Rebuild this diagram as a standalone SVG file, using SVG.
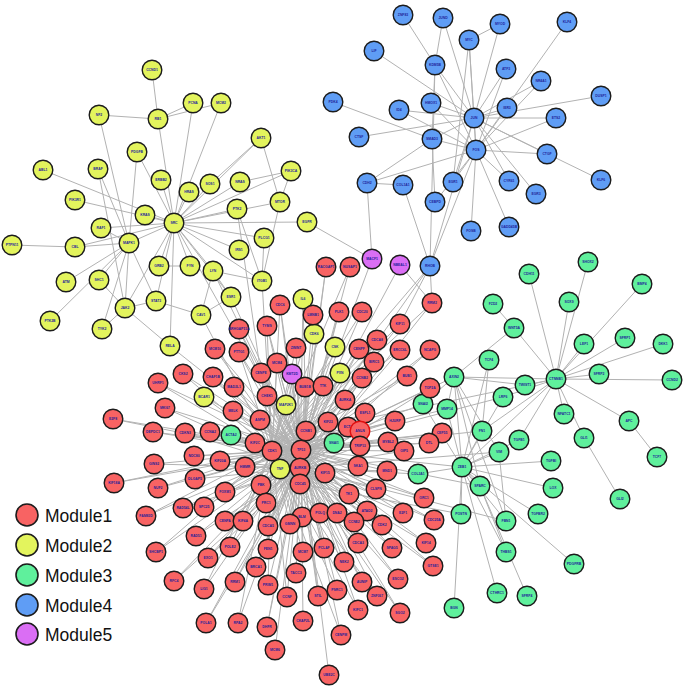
<svg xmlns="http://www.w3.org/2000/svg" width="685" height="686" viewBox="0 0 685 686">
<style>
.e{fill:none;stroke:#b2b2b2;stroke-width:1}
circle{stroke:#1c1c1c;stroke-width:1.4}
.m1 circle{fill:#f86363}
.m2 circle{fill:#e3f45d}
.m3 circle{fill:#5ff09c}
.m4 circle{fill:#5f9df5}
.m5 circle{fill:#da6ef4}
text{font-family:"Liberation Sans",Arial,sans-serif;font-size:3.4px;font-weight:bold;fill:#1f1f9a;text-anchor:middle}
.lg text{font-size:17.5px;font-weight:normal;fill:#111;text-anchor:start}
.lg circle{stroke-width:1.6}
</style>
<rect width="685" height="686" fill="#fff"/>
<g id="connectors">
<path class="e" d="M474 118L476 150M403 15L435 65M443 18L435 65M443 18L474 118M469 40L474 118M469 40L476 150M469 40L500 24M469 40L453 182M374 51L474 118M435 65L474 118M435 65L476 150M435 65L432 139M333 102L432 139M399 110L474 118M399 110L476 150M431 103L474 118M431 103L476 150M359 137L474 118M432 139L474 118M432 139L476 150M432 139L367 183M432 139L435 202M367 183L476 150M367 183L403 185M367 183L372 259M403 185L430 266M453 182L474 118M453 182L476 150M435 202L476 150M471 231L476 150M500 24L474 118M567 22L476 150M506 69L474 118M506 69L476 150M541 81L474 118M541 81L476 150M507 108L474 118M507 108L476 150M601 96L474 118M556 118L474 118M556 118L476 150M547 154L474 118M547 154L476 150M601 180L474 118M509 181L474 118M509 181L476 150M536 194L474 118M509 227L476 150M430 266L474 118M430 266L476 150M435 65L430 266"/>
<path class="e" d="M152 70L158 119M99 115L158 119M99 115L129 243M158 119L174 223M158 119L193 103M158 119L221 103M193 103L174 223M221 103L174 223M261 138L210 184M261 138L280 202M261 138L174 223M291 171L240 182M291 171L280 202M291 171L174 223M137 152L174 223M137 152L129 243M43 170L174 223M98 169L129 243M98 169L125 308M161 180L174 223M75 200L174 223M145 215L174 223M101 228L174 223M101 228L129 243M129 243L174 223M75 247L129 243M75 247L174 223M75 247L12 245M159 266L174 223M159 266L190 266M66 282L129 243M99 280L129 243M99 280L125 308M125 308L174 223M125 308L156 301M125 308L102 329M50 321L129 243M102 329L129 243M156 301L174 223M189 192L174 223M210 184L174 223M240 182L174 223M237 209L174 223M237 209L262 281M280 202L174 223M280 202L262 281M307 222L174 223M307 222L372 259M264 238L174 223M264 238L262 281M239 250L174 223M190 266L174 223M213 271L174 223M213 271L262 281M213 271L231 297M262 281L174 223M231 297L174 223M231 297L201 315M201 315L213 271M201 315L156 301M170 346L125 308M170 346L174 223M129 243L125 308M129 243L156 301"/>
<path class="e" d="M588 262L556 379M529 274L556 379M642 284L556 379M493 304L514 328M569 302L556 379M514 328L556 379M514 328L454 377M584 344L556 379M625 338L556 379M663 344L556 379M489 360L482 431M489 360L462 467M454 377L556 379M454 377L462 467M599 374L556 379M525 385L556 379M525 385L454 377M672 380L556 379M503 397L556 379M503 397L462 467M423 404L454 377M423 404L462 467M447 409L454 377M447 409L462 467M564 414L556 379M629 421L556 379M482 431L462 467M482 431L556 379M584 438L556 379M584 438L620 499M519 440L556 379M519 440L462 467M499 452L462 467M499 452L454 377M551 461L462 467M418 474L462 467M480 486L462 467M480 486L454 377M553 488L462 467M657 457L629 421M461 514L462 467M538 514L462 467M506 521L462 467M506 521L499 452M506 552L462 467M506 552L480 486M574 564L462 467M497 593L462 467M527 596L480 486M454 608L462 467M556 379L462 467M454 377L506 521"/>
<path class="e" d="M301 450L300 468M301 450L272 451M301 450L306 431M300 468L272 451M300 468L300 484M272 451L306 431M300 484L301 450M280 469L301 450M280 469L272 451M301 450L462 467M301 450L454 377M300 468L418 474M301 450L423 404M272 451L447 409M301 450L480 486M300 468L499 452M301 450L503 397M306 431L556 379M301 450L482 431M300 468L506 521M300 484L461 514M301 450L174 223M272 451L262 281M301 450L213 271M301 450L231 297M300 468L303 299M301 450L314 334M272 451L201 315M301 450L170 346M301 450L204 397M300 468L204 397M301 450L286 405M272 451L286 405M301 450L335 347M272 451L335 347M301 450L340 373M300 468L340 373M306 431L303 299M272 451L237 209M301 450L430 266M272 451L430 266M432 303L430 266M400 324L430 266M372 259L301 450M400 265L301 450M400 265L432 303M292 374L301 450M292 374L300 468M292 374L272 451M231 435L301 450M231 435L272 451M334 443L301 450M334 443L300 468M303 299L314 334"/>
<path class="e" d="M326 267L301 450M326 267L300 468M350 267L301 450M350 267L272 451M280 305L301 450M280 305L300 468M280 305L272 451M339 312L301 450M339 312L300 468M362 312L301 450M362 312L272 451M313 315L301 450M313 315L272 451M432 303L300 468M432 303L272 451M267 326L301 450M267 326L300 468M267 326L272 451M239 329L301 450M239 329L300 468M400 324L301 450M400 324L272 451M296 348L301 450M296 348L300 468M296 348L272 451M359 349L301 450M359 349L300 468M377 340L301 450M377 340L272 451M400 350L300 468M400 350L272 451M430 350L301 450M430 350L300 468M277 363L301 450M277 363L272 451M374 362L301 450M374 362L300 468M407 376L301 450M407 376L272 451M362 378L301 450M362 378L300 468M305 387L300 468M305 387L272 451M323 386L301 450M323 386L272 451M430 388L301 450M430 388L300 468M261 373L301 450M261 373L300 468M261 373L272 451M267 396L301 450M267 396L300 468M345 400L301 450M345 400L272 451M215 349L301 450M215 349L300 468M239 352L301 450M239 352L300 468M239 352L272 451M183 374L301 450M183 374L272 451M213 377L301 450M213 377L300 468M158 383L301 450M158 383L272 451M234 387L301 450M234 387L300 468M165 408L301 450M165 408L300 468M113 419L301 450M113 419L272 451M233 411L301 450M233 411L300 468M260 420L301 450M260 420L300 468M153 432L301 450M153 432L272 451M185 433L301 450M185 433L300 468M210 432L301 450M210 432L272 451M255 443L301 450M255 443L300 468M194 456L301 450M194 456L272 451M220 461L301 450M220 461L300 468M245 467L301 450M245 467L300 468M154 464L301 450M154 464L300 468M114 483L301 450M114 483L272 451M195 479L301 450M195 479L300 468M158 488L301 450M158 488L272 451M225 492L301 450M225 492L300 468M261 485L301 450M261 485L300 468M146 516L301 450M146 516L272 451M183 508L301 450M183 508L300 468M204 507L301 450M204 507L272 451M225 521L301 450M225 521L300 468M243 521L301 450M243 521L272 451M266 503L301 450M266 503L300 468M268 526L301 450M268 526L300 468"/>
<path class="e" d="M365 413L272 451M365 413L300 468M395 421L301 450M395 421L272 451M442 433L301 450M442 433L272 451M328 422L300 468M328 422L272 451M348 427L301 450M348 427L272 451M360 431L301 450M360 431L300 468M360 431L272 451M360 446L300 468M360 446L272 451M388 442L301 450M388 442L272 451M404 451L301 450M404 451L300 468M429 443L301 450M429 443L272 451M325 473L301 450M325 473L272 451M358 466L301 450M358 466L272 451M387 471L301 450M387 471L300 468M349 494L301 450M349 494L272 451M376 489L301 450M376 489L300 468M424 498L301 450M424 498L272 451M302 517L301 450M302 517L272 451M320 513L301 450M320 513L272 451M337 513L301 450M337 513L300 468M367 511L301 450M367 511L272 451M403 513L301 450M403 513L300 468M434 520L301 450M434 520L272 451M354 522L301 450M354 522L300 468M382 525L301 450M382 525L272 451M290 524L301 450M290 524L272 451M196 536L301 450M196 536L300 468M156 552L301 450M156 552L272 451M208 558L301 450M208 558L300 468M230 547L301 450M230 547L272 451M256 567L301 450M256 567L300 468M268 549L301 450M268 549L272 451M174 581L301 450M174 581L300 468M204 589L301 450M204 589L272 451M235 582L301 450M235 582L300 468M268 585L301 450M268 585L272 451M206 623L301 450M206 623L300 468M238 623L301 450M238 623L272 451M267 627L301 450M267 627L300 468M275 650L301 450M303 552L301 450M303 552L272 451M324 548L301 450M324 548L300 468M358 543L301 450M358 543L272 451M392 548L301 450M392 548L300 468M426 543L301 450M426 543L272 451M433 566L301 450M433 566L300 468M344 562L301 450M344 562L272 451M296 573L301 450M296 573L300 468M287 597L301 450M287 597L272 451M318 596L301 450M318 596L300 468M337 590L301 450M337 590L272 451M362 582L301 450M362 582L300 468M377 596L301 450M377 596L272 451M398 579L301 450M398 579L300 468M358 610L301 450M358 610L272 451M400 613L301 450M400 613L300 468M303 621L301 450M341 635L301 450M341 635L272 451M329 675L301 450"/>
</g>
<g id="module4-nodes" class="m4">
<g id="n-ZNF83"><circle cx="403" cy="15" r="9.8"/><text x="403" y="16.2">ZNF83</text></g>
<g id="n-JUND"><circle cx="443" cy="18" r="9.8"/><text x="443" y="19.2">JUND</text></g>
<g id="n-MYC"><circle cx="469" cy="40" r="9.8"/><text x="469" y="41.2">MYC</text></g>
<g id="n-LIF"><circle cx="374" cy="51" r="9.8"/><text x="374" y="52.2">LIF</text></g>
<g id="n-KDM5B"><circle cx="435" cy="65" r="9.8"/><text x="435" y="66.2">KDM5B</text></g>
<g id="n-PDK4"><circle cx="333" cy="102" r="9.8"/><text x="333" y="103.2">PDK4</text></g>
<g id="n-ID4"><circle cx="399" cy="110" r="9.8"/><text x="399" y="111.2">ID4</text></g>
<g id="n-HMOX1"><circle cx="431" cy="103" r="9.8"/><text x="431" y="104.2">HMOX1</text></g>
<g id="n-CTSF"><circle cx="359" cy="137" r="9.8"/><text x="359" y="138.2">CTSF</text></g>
<g id="n-SMAD3"><circle cx="432" cy="139" r="9.8"/><text x="432" y="140.2">SMAD3</text></g>
<g id="n-CDH2"><circle cx="367" cy="183" r="9.8"/><text x="367" y="184.2">CDH2</text></g>
<g id="n-COL1A1"><circle cx="403" cy="185" r="9.8"/><text x="403" y="186.2">COL1A1</text></g>
<g id="n-EGR1"><circle cx="453" cy="182" r="9.8"/><text x="453" y="183.2">EGR1</text></g>
<g id="n-CEBPD"><circle cx="435" cy="202" r="9.8"/><text x="435" y="203.2">CEBPD</text></g>
<g id="n-FOSB"><circle cx="471" cy="231" r="9.8"/><text x="471" y="232.2">FOSB</text></g>
<g id="n-MYOD"><circle cx="500" cy="24" r="9.8"/><text x="500" y="25.2">MYOD</text></g>
<g id="n-KLF4"><circle cx="567" cy="22" r="9.8"/><text x="567" y="23.2">KLF4</text></g>
<g id="n-ATF3"><circle cx="506" cy="69" r="9.8"/><text x="506" y="70.2">ATF3</text></g>
<g id="n-NR4A1"><circle cx="541" cy="81" r="9.8"/><text x="541" y="82.2">NR4A1</text></g>
<g id="n-IER3"><circle cx="507" cy="108" r="9.8"/><text x="507" y="109.2">IER3</text></g>
<g id="n-DUSP1"><circle cx="601" cy="96" r="9.8"/><text x="601" y="97.2">DUSP1</text></g>
<g id="n-ETS2"><circle cx="556" cy="118" r="9.8"/><text x="556" y="119.2">ETS2</text></g>
<g id="n-CTGF"><circle cx="547" cy="154" r="9.8"/><text x="547" y="155.2">CTGF</text></g>
<g id="n-KLF6"><circle cx="601" cy="180" r="9.8"/><text x="601" y="181.2">KLF6</text></g>
<g id="n-CYR61"><circle cx="509" cy="181" r="9.8"/><text x="509" y="182.2">CYR61</text></g>
<g id="n-EGR3"><circle cx="536" cy="194" r="9.8"/><text x="536" y="195.2">EGR3</text></g>
<g id="n-GADD45B"><circle cx="509" cy="227" r="9.8"/><text x="509" y="228.2">GADD45B</text></g>
<g id="n-RHOB"><circle cx="430" cy="266" r="9.8"/><text x="430" y="267.2">RHOB</text></g>
<g id="n-JUN"><circle cx="474" cy="118" r="9.8"/><text x="474" y="119.2">JUN</text></g>
<g id="n-FOS"><circle cx="476" cy="150" r="9.8"/><text x="476" y="151.2">FOS</text></g>
</g>
<g id="module2-nodes" class="m2">
<g id="n-CCND1"><circle cx="152" cy="70" r="9.8"/><text x="152" y="71.2">CCND1</text></g>
<g id="n-NF2"><circle cx="99" cy="115" r="9.8"/><text x="99" y="116.2">NF2</text></g>
<g id="n-RB1"><circle cx="158" cy="119" r="9.8"/><text x="158" y="120.2">RB1</text></g>
<g id="n-PCNA"><circle cx="193" cy="103" r="9.8"/><text x="193" y="104.2">PCNA</text></g>
<g id="n-MCM2"><circle cx="221" cy="103" r="9.8"/><text x="221" y="104.2">MCM2</text></g>
<g id="n-AKT1"><circle cx="261" cy="138" r="9.8"/><text x="261" y="139.2">AKT1</text></g>
<g id="n-PIK3CA"><circle cx="291" cy="171" r="9.8"/><text x="291" y="172.2">PIK3CA</text></g>
<g id="n-PDGFB"><circle cx="137" cy="152" r="9.8"/><text x="137" y="153.2">PDGFB</text></g>
<g id="n-ABL1"><circle cx="43" cy="170" r="9.8"/><text x="43" y="171.2">ABL1</text></g>
<g id="n-BRAF"><circle cx="98" cy="169" r="9.8"/><text x="98" y="170.2">BRAF</text></g>
<g id="n-ERBB2"><circle cx="161" cy="180" r="9.8"/><text x="161" y="181.2">ERBB2</text></g>
<g id="n-PIK3R1"><circle cx="75" cy="200" r="9.8"/><text x="75" y="201.2">PIK3R1</text></g>
<g id="n-KRAS"><circle cx="145" cy="215" r="9.8"/><text x="145" y="216.2">KRAS</text></g>
<g id="n-SRC"><circle cx="174" cy="223" r="9.8"/><text x="174" y="224.2">SRC</text></g>
<g id="n-RAF1"><circle cx="101" cy="228" r="9.8"/><text x="101" y="229.2">RAF1</text></g>
<g id="n-MAPK1"><circle cx="129" cy="243" r="9.8"/><text x="129" y="244.2">MAPK1</text></g>
<g id="n-CBL"><circle cx="75" cy="247" r="9.8"/><text x="75" y="248.2">CBL</text></g>
<g id="n-PTPN11"><circle cx="12" cy="245" r="9.8"/><text x="12" y="246.2">PTPN11</text></g>
<g id="n-GRB2"><circle cx="159" cy="266" r="9.8"/><text x="159" y="267.2">GRB2</text></g>
<g id="n-ATM"><circle cx="66" cy="282" r="9.8"/><text x="66" y="283.2">ATM</text></g>
<g id="n-SHC1"><circle cx="99" cy="280" r="9.8"/><text x="99" y="281.2">SHC1</text></g>
<g id="n-JAK2"><circle cx="125" cy="308" r="9.8"/><text x="125" y="309.2">JAK2</text></g>
<g id="n-STAT3"><circle cx="156" cy="301" r="9.8"/><text x="156" y="302.2">STAT3</text></g>
<g id="n-PTK2B"><circle cx="50" cy="321" r="9.8"/><text x="50" y="322.2">PTK2B</text></g>
<g id="n-TYK2"><circle cx="102" cy="329" r="9.8"/><text x="102" y="330.2">TYK2</text></g>
<g id="n-HRAS"><circle cx="189" cy="192" r="9.8"/><text x="189" y="193.2">HRAS</text></g>
<g id="n-SOS1"><circle cx="210" cy="184" r="9.8"/><text x="210" y="185.2">SOS1</text></g>
<g id="n-NRAS"><circle cx="240" cy="182" r="9.8"/><text x="240" y="183.2">NRAS</text></g>
<g id="n-PTK2"><circle cx="237" cy="209" r="9.8"/><text x="237" y="210.2">PTK2</text></g>
<g id="n-MTOR"><circle cx="280" cy="202" r="9.8"/><text x="280" y="203.2">MTOR</text></g>
<g id="n-EGFR"><circle cx="307" cy="222" r="9.8"/><text x="307" y="223.2">EGFR</text></g>
<g id="n-PLCG1"><circle cx="264" cy="238" r="9.8"/><text x="264" y="239.2">PLCG1</text></g>
<g id="n-IRS1"><circle cx="239" cy="250" r="9.8"/><text x="239" y="251.2">IRS1</text></g>
<g id="n-FYN"><circle cx="190" cy="266" r="9.8"/><text x="190" y="267.2">FYN</text></g>
<g id="n-LYN"><circle cx="213" cy="271" r="9.8"/><text x="213" y="272.2">LYN</text></g>
<g id="n-ITGB1"><circle cx="262" cy="281" r="9.8"/><text x="262" y="282.2">ITGB1</text></g>
<g id="n-ESR1"><circle cx="231" cy="297" r="9.8"/><text x="231" y="298.2">ESR1</text></g>
<g id="n-CAV1"><circle cx="201" cy="315" r="9.8"/><text x="201" y="316.2">CAV1</text></g>
<g id="n-IL6"><circle cx="303" cy="299" r="9.8"/><text x="303" y="300.2">IL6</text></g>
<g id="n-CDK6"><circle cx="314" cy="334" r="9.8"/><text x="314" y="335.2">CDK6</text></g>
<g id="n-RELA"><circle cx="170" cy="346" r="9.8"/><text x="170" y="347.2">RELA</text></g>
<g id="n-CSK"><circle cx="335" cy="347" r="9.8"/><text x="335" y="348.2">CSK</text></g>
<g id="n-PXN"><circle cx="340" cy="373" r="9.8"/><text x="340" y="374.2">PXN</text></g>
<g id="n-BCAR1"><circle cx="204" cy="397" r="9.8"/><text x="204" y="398.2">BCAR1</text></g>
<g id="n-MAP2K1"><circle cx="286" cy="405" r="9.8"/><text x="286" y="406.2">MAP2K1</text></g>
<g id="n-TNF"><circle cx="280" cy="469" r="9.8"/><text x="280" y="470.2">TNF</text></g>
</g>
<g id="module3-nodes" class="m3">
<g id="n-SHOX2"><circle cx="588" cy="262" r="9.8"/><text x="588" y="263.2">SHOX2</text></g>
<g id="n-CDH11"><circle cx="529" cy="274" r="9.8"/><text x="529" y="275.2">CDH11</text></g>
<g id="n-BMP4"><circle cx="642" cy="284" r="9.8"/><text x="642" y="285.2">BMP4</text></g>
<g id="n-FZD2"><circle cx="493" cy="304" r="9.8"/><text x="493" y="305.2">FZD2</text></g>
<g id="n-SOX9"><circle cx="569" cy="302" r="9.8"/><text x="569" y="303.2">SOX9</text></g>
<g id="n-WNT5A"><circle cx="514" cy="328" r="9.8"/><text x="514" y="329.2">WNT5A</text></g>
<g id="n-LEF1"><circle cx="584" cy="344" r="9.8"/><text x="584" y="345.2">LEF1</text></g>
<g id="n-SFRP1"><circle cx="625" cy="338" r="9.8"/><text x="625" y="339.2">SFRP1</text></g>
<g id="n-DKK1"><circle cx="663" cy="344" r="9.8"/><text x="663" y="345.2">DKK1</text></g>
<g id="n-TCF4"><circle cx="489" cy="360" r="9.8"/><text x="489" y="361.2">TCF4</text></g>
<g id="n-AXIN2"><circle cx="454" cy="377" r="9.8"/><text x="454" y="378.2">AXIN2</text></g>
<g id="n-CTNNB1"><circle cx="556" cy="379" r="9.8"/><text x="556" y="380.2">CTNNB1</text></g>
<g id="n-SFRP2"><circle cx="599" cy="374" r="9.8"/><text x="599" y="375.2">SFRP2</text></g>
<g id="n-TWIST1"><circle cx="525" cy="385" r="9.8"/><text x="525" y="386.2">TWIST1</text></g>
<g id="n-CCND2"><circle cx="672" cy="380" r="9.8"/><text x="672" y="381.2">CCND2</text></g>
<g id="n-LRP6"><circle cx="503" cy="397" r="9.8"/><text x="503" y="398.2">LRP6</text></g>
<g id="n-SNAI2"><circle cx="423" cy="404" r="9.8"/><text x="423" y="405.2">SNAI2</text></g>
<g id="n-MMP14"><circle cx="447" cy="409" r="9.8"/><text x="447" y="410.2">MMP14</text></g>
<g id="n-NFATC1"><circle cx="564" cy="414" r="9.8"/><text x="564" y="415.2">NFATC1</text></g>
<g id="n-APC"><circle cx="629" cy="421" r="9.8"/><text x="629" y="422.2">APC</text></g>
<g id="n-FN1"><circle cx="482" cy="431" r="9.8"/><text x="482" y="432.2">FN1</text></g>
<g id="n-TGFB1"><circle cx="519" cy="440" r="9.8"/><text x="519" y="441.2">TGFB1</text></g>
<g id="n-GLI1"><circle cx="584" cy="438" r="9.8"/><text x="584" y="439.2">GLI1</text></g>
<g id="n-VIM"><circle cx="499" cy="452" r="9.8"/><text x="499" y="453.2">VIM</text></g>
<g id="n-TGFBI"><circle cx="551" cy="461" r="9.8"/><text x="551" y="462.2">TGFBI</text></g>
<g id="n-ZEB1"><circle cx="462" cy="467" r="9.8"/><text x="462" y="468.2">ZEB1</text></g>
<g id="n-COL3A1"><circle cx="418" cy="474" r="9.8"/><text x="418" y="475.2">COL3A1</text></g>
<g id="n-SPARC"><circle cx="480" cy="486" r="9.8"/><text x="480" y="487.2">SPARC</text></g>
<g id="n-LOX"><circle cx="553" cy="488" r="9.8"/><text x="553" y="489.2">LOX</text></g>
<g id="n-TCF7"><circle cx="657" cy="457" r="9.8"/><text x="657" y="458.2">TCF7</text></g>
<g id="n-GLI2"><circle cx="620" cy="499" r="9.8"/><text x="620" y="500.2">GLI2</text></g>
<g id="n-POSTN"><circle cx="461" cy="514" r="9.8"/><text x="461" y="515.2">POSTN</text></g>
<g id="n-TGFBR2"><circle cx="538" cy="514" r="9.8"/><text x="538" y="515.2">TGFBR2</text></g>
<g id="n-FBN1"><circle cx="506" cy="521" r="9.8"/><text x="506" y="522.2">FBN1</text></g>
<g id="n-THBS1"><circle cx="506" cy="552" r="9.8"/><text x="506" y="553.2">THBS1</text></g>
<g id="n-PDGFRB"><circle cx="574" cy="564" r="9.8"/><text x="574" y="565.2">PDGFRB</text></g>
<g id="n-CTHRC1"><circle cx="497" cy="593" r="9.8"/><text x="497" y="594.2">CTHRC1</text></g>
<g id="n-SFRP4"><circle cx="527" cy="596" r="9.8"/><text x="527" y="597.2">SFRP4</text></g>
<g id="n-BGN"><circle cx="454" cy="608" r="9.8"/><text x="454" y="609.2">BGN</text></g>
<g id="n-ACTA2"><circle cx="231" cy="435" r="9.8"/><text x="231" y="436.2">ACTA2</text></g>
<g id="n-SNAI1"><circle cx="334" cy="443" r="9.8"/><text x="334" y="444.2">SNAI1</text></g>
</g>
<g id="module5-nodes" class="m5">
<g id="n-MACF1"><circle cx="372" cy="259" r="9.8"/><text x="372" y="260.2">MACF1</text></g>
<g id="n-NBEAL1"><circle cx="400" cy="265" r="9.8"/><text x="400" y="266.2">NBEAL1</text></g>
<g id="n-KMT2D"><circle cx="292" cy="374" r="9.8"/><text x="292" y="375.2">KMT2D</text></g>
</g>
<g id="module1-nodes" class="m1">
<g id="n-RACGAP1"><circle cx="326" cy="267" r="9.8"/><text x="326" y="268.2">RACGAP1</text></g>
<g id="n-NUSAP1"><circle cx="350" cy="267" r="9.8"/><text x="350" y="268.2">NUSAP1</text></g>
<g id="n-CDC6"><circle cx="280" cy="305" r="9.8"/><text x="280" y="306.2">CDC6</text></g>
<g id="n-PLK1"><circle cx="339" cy="312" r="9.8"/><text x="339" y="313.2">PLK1</text></g>
<g id="n-CDC20"><circle cx="362" cy="312" r="9.8"/><text x="362" y="313.2">CDC20</text></g>
<g id="n-LMNB1"><circle cx="313" cy="315" r="9.8"/><text x="313" y="316.2">LMNB1</text></g>
<g id="n-RRM2"><circle cx="432" cy="303" r="9.8"/><text x="432" y="304.2">RRM2</text></g>
<g id="n-TYMS"><circle cx="267" cy="326" r="9.8"/><text x="267" y="327.2">TYMS</text></g>
<g id="n-ARHGAP11A"><circle cx="239" cy="329" r="9.8"/><text x="239" y="330.2">ARHGAP11A</text></g>
<g id="n-KIF11"><circle cx="400" cy="324" r="9.8"/><text x="400" y="325.2">KIF11</text></g>
<g id="n-ZWINT"><circle cx="296" cy="348" r="9.8"/><text x="296" y="349.2">ZWINT</text></g>
<g id="n-CENPF"><circle cx="359" cy="349" r="9.8"/><text x="359" y="350.2">CENPF</text></g>
<g id="n-CDCA8"><circle cx="377" cy="340" r="9.8"/><text x="377" y="341.2">CDCA8</text></g>
<g id="n-ERCC6L"><circle cx="400" cy="350" r="9.8"/><text x="400" y="351.2">ERCC6L</text></g>
<g id="n-NCAPG"><circle cx="430" cy="350" r="9.8"/><text x="430" y="351.2">NCAPG</text></g>
<g id="n-MCM4"><circle cx="277" cy="363" r="9.8"/><text x="277" y="364.2">MCM4</text></g>
<g id="n-BIRC5"><circle cx="374" cy="362" r="9.8"/><text x="374" y="363.2">BIRC5</text></g>
<g id="n-BUB1"><circle cx="407" cy="376" r="9.8"/><text x="407" y="377.2">BUB1</text></g>
<g id="n-CCNB2"><circle cx="362" cy="378" r="9.8"/><text x="362" y="379.2">CCNB2</text></g>
<g id="n-BUB1B"><circle cx="305" cy="387" r="9.8"/><text x="305" y="388.2">BUB1B</text></g>
<g id="n-TTK"><circle cx="323" cy="386" r="9.8"/><text x="323" y="387.2">TTK</text></g>
<g id="n-TOP2A"><circle cx="430" cy="388" r="9.8"/><text x="430" y="389.2">TOP2A</text></g>
<g id="n-CENPE"><circle cx="261" cy="373" r="9.8"/><text x="261" y="374.2">CENPE</text></g>
<g id="n-CHEK1"><circle cx="267" cy="396" r="9.8"/><text x="267" y="397.2">CHEK1</text></g>
<g id="n-AURKA"><circle cx="345" cy="400" r="9.8"/><text x="345" y="401.2">AURKA</text></g>
<g id="n-MCM10"><circle cx="215" cy="349" r="9.8"/><text x="215" y="350.2">MCM10</text></g>
<g id="n-PTTG1"><circle cx="239" cy="352" r="9.8"/><text x="239" y="353.2">PTTG1</text></g>
<g id="n-CKS2"><circle cx="183" cy="374" r="9.8"/><text x="183" y="375.2">CKS2</text></g>
<g id="n-CHAF1B"><circle cx="213" cy="377" r="9.8"/><text x="213" y="378.2">CHAF1B</text></g>
<g id="n-UHRF1"><circle cx="158" cy="383" r="9.8"/><text x="158" y="384.2">UHRF1</text></g>
<g id="n-MAD2L1"><circle cx="234" cy="387" r="9.8"/><text x="234" y="388.2">MAD2L1</text></g>
<g id="n-MKI67"><circle cx="165" cy="408" r="9.8"/><text x="165" y="409.2">MKI67</text></g>
<g id="n-E2F8"><circle cx="113" cy="419" r="9.8"/><text x="113" y="420.2">E2F8</text></g>
<g id="n-MELK"><circle cx="233" cy="411" r="9.8"/><text x="233" y="412.2">MELK</text></g>
<g id="n-ASPM"><circle cx="260" cy="420" r="9.8"/><text x="260" y="421.2">ASPM</text></g>
<g id="n-DEPDC1"><circle cx="153" cy="432" r="9.8"/><text x="153" y="433.2">DEPDC1</text></g>
<g id="n-CDKN3"><circle cx="185" cy="433" r="9.8"/><text x="185" y="434.2">CDKN3</text></g>
<g id="n-CCNA2"><circle cx="210" cy="432" r="9.8"/><text x="210" y="433.2">CCNA2</text></g>
<g id="n-KIF2C"><circle cx="255" cy="443" r="9.8"/><text x="255" y="444.2">KIF2C</text></g>
<g id="n-NDC80"><circle cx="194" cy="456" r="9.8"/><text x="194" y="457.2">NDC80</text></g>
<g id="n-KIF20A"><circle cx="220" cy="461" r="9.8"/><text x="220" y="462.2">KIF20A</text></g>
<g id="n-HMMR"><circle cx="245" cy="467" r="9.8"/><text x="245" y="468.2">HMMR</text></g>
<g id="n-GINS2"><circle cx="154" cy="464" r="9.8"/><text x="154" y="465.2">GINS2</text></g>
<g id="n-KIF18A"><circle cx="114" cy="483" r="9.8"/><text x="114" y="484.2">KIF18A</text></g>
<g id="n-DLGAP5"><circle cx="195" cy="479" r="9.8"/><text x="195" y="480.2">DLGAP5</text></g>
<g id="n-NUF2"><circle cx="158" cy="488" r="9.8"/><text x="158" y="489.2">NUF2</text></g>
<g id="n-FOXM1"><circle cx="225" cy="492" r="9.8"/><text x="225" y="493.2">FOXM1</text></g>
<g id="n-PBK"><circle cx="261" cy="485" r="9.8"/><text x="261" y="486.2">PBK</text></g>
<g id="n-FAM83D"><circle cx="146" cy="516" r="9.8"/><text x="146" y="517.2">FAM83D</text></g>
<g id="n-RAD54L"><circle cx="183" cy="508" r="9.8"/><text x="183" y="509.2">RAD54L</text></g>
<g id="n-SPC25"><circle cx="204" cy="507" r="9.8"/><text x="204" y="508.2">SPC25</text></g>
<g id="n-CENPA"><circle cx="225" cy="521" r="9.8"/><text x="225" y="522.2">CENPA</text></g>
<g id="n-KIF4A"><circle cx="243" cy="521" r="9.8"/><text x="243" y="522.2">KIF4A</text></g>
<g id="n-PRC1"><circle cx="266" cy="503" r="9.8"/><text x="266" y="504.2">PRC1</text></g>
<g id="n-CDCA5"><circle cx="268" cy="526" r="9.8"/><text x="268" y="527.2">CDCA5</text></g>
<g id="n-ESPL1"><circle cx="365" cy="413" r="9.8"/><text x="365" y="414.2">ESPL1</text></g>
<g id="n-HJURP"><circle cx="395" cy="421" r="9.8"/><text x="395" y="422.2">HJURP</text></g>
<g id="n-CEP55"><circle cx="442" cy="433" r="9.8"/><text x="442" y="434.2">CEP55</text></g>
<g id="n-KIF23"><circle cx="328" cy="422" r="9.8"/><text x="328" y="423.2">KIF23</text></g>
<g id="n-ECT2"><circle cx="348" cy="427" r="9.8"/><text x="348" y="428.2">ECT2</text></g>
<g id="n-ANLN"><circle cx="360" cy="431" r="9.8" style="stroke:#e01010"/><text x="360" y="432.2">ANLN</text></g>
<g id="n-TRIP13"><circle cx="360" cy="446" r="9.8"/><text x="360" y="447.2">TRIP13</text></g>
<g id="n-MYBL2"><circle cx="388" cy="442" r="9.8"/><text x="388" y="443.2">MYBL2</text></g>
<g id="n-OIP5"><circle cx="404" cy="451" r="9.8"/><text x="404" y="452.2">OIP5</text></g>
<g id="n-DTL"><circle cx="429" cy="443" r="9.8"/><text x="429" y="444.2">DTL</text></g>
<g id="n-CCNB1"><circle cx="306" cy="431" r="9.8"/><text x="306" y="432.2">CCNB1</text></g>
<g id="n-CDK1"><circle cx="272" cy="451" r="9.8"/><text x="272" y="452.2">CDK1</text></g>
<g id="n-TP53"><circle cx="301" cy="450" r="9.8"/><text x="301" y="451.2">TP53</text></g>
<g id="n-AURKB"><circle cx="300" cy="468" r="9.8"/><text x="300" y="469.2">AURKB</text></g>
<g id="n-CDC45"><circle cx="300" cy="484" r="9.8"/><text x="300" y="485.2">CDC45</text></g>
<g id="n-KIF15"><circle cx="325" cy="473" r="9.8"/><text x="325" y="474.2">KIF15</text></g>
<g id="n-SKA1"><circle cx="358" cy="466" r="9.8"/><text x="358" y="467.2">SKA1</text></g>
<g id="n-MND1"><circle cx="387" cy="471" r="9.8"/><text x="387" y="472.2">MND1</text></g>
<g id="n-TK1"><circle cx="349" cy="494" r="9.8"/><text x="349" y="495.2">TK1</text></g>
<g id="n-CLSPN"><circle cx="376" cy="489" r="9.8"/><text x="376" y="490.2">CLSPN</text></g>
<g id="n-ORC1"><circle cx="424" cy="498" r="9.8"/><text x="424" y="499.2">ORC1</text></g>
<g id="n-BLM"><circle cx="302" cy="517" r="9.8"/><text x="302" y="518.2">BLM</text></g>
<g id="n-POLQ"><circle cx="320" cy="513" r="9.8"/><text x="320" y="514.2">POLQ</text></g>
<g id="n-DNA2"><circle cx="337" cy="513" r="9.8"/><text x="337" y="514.2">DNA2</text></g>
<g id="n-ATAD2"><circle cx="367" cy="511" r="9.8"/><text x="367" y="512.2">ATAD2</text></g>
<g id="n-E2F1"><circle cx="403" cy="513" r="9.8"/><text x="403" y="514.2">E2F1</text></g>
<g id="n-CDC25A"><circle cx="434" cy="520" r="9.8"/><text x="434" y="521.2">CDC25A</text></g>
<g id="n-CCNE2"><circle cx="354" cy="522" r="9.8"/><text x="354" y="523.2">CCNE2</text></g>
<g id="n-CDK2"><circle cx="382" cy="525" r="9.8"/><text x="382" y="526.2">CDK2</text></g>
<g id="n-GMNN"><circle cx="290" cy="524" r="9.8"/><text x="290" y="525.2">GMNN</text></g>
<g id="n-RAD51"><circle cx="196" cy="536" r="9.8"/><text x="196" y="537.2">RAD51</text></g>
<g id="n-SHCBP1"><circle cx="156" cy="552" r="9.8"/><text x="156" y="553.2">SHCBP1</text></g>
<g id="n-EXO1"><circle cx="208" cy="558" r="9.8"/><text x="208" y="559.2">EXO1</text></g>
<g id="n-POLE2"><circle cx="230" cy="547" r="9.8"/><text x="230" y="548.2">POLE2</text></g>
<g id="n-BRCA1"><circle cx="256" cy="567" r="9.8"/><text x="256" y="568.2">BRCA1</text></g>
<g id="n-FEN1"><circle cx="268" cy="549" r="9.8"/><text x="268" y="550.2">FEN1</text></g>
<g id="n-RFC4"><circle cx="174" cy="581" r="9.8"/><text x="174" y="582.2">RFC4</text></g>
<g id="n-LIG1"><circle cx="204" cy="589" r="9.8"/><text x="204" y="590.2">LIG1</text></g>
<g id="n-RRM1"><circle cx="235" cy="582" r="9.8"/><text x="235" y="583.2">RRM1</text></g>
<g id="n-PRIM1"><circle cx="268" cy="585" r="9.8"/><text x="268" y="586.2">PRIM1</text></g>
<g id="n-POLA1"><circle cx="206" cy="623" r="9.8"/><text x="206" y="624.2">POLA1</text></g>
<g id="n-RPA2"><circle cx="238" cy="623" r="9.8"/><text x="238" y="624.2">RPA2</text></g>
<g id="n-DHFR"><circle cx="267" cy="627" r="9.8"/><text x="267" y="628.2">DHFR</text></g>
<g id="n-MCM6"><circle cx="275" cy="650" r="9.8"/><text x="275" y="651.2">MCM6</text></g>
<g id="n-MCM7"><circle cx="303" cy="552" r="9.8"/><text x="303" y="553.2">MCM7</text></g>
<g id="n-PCLAF"><circle cx="324" cy="548" r="9.8"/><text x="324" y="549.2">PCLAF</text></g>
<g id="n-CDCA3"><circle cx="358" cy="543" r="9.8"/><text x="358" y="544.2">CDCA3</text></g>
<g id="n-SPAG5"><circle cx="392" cy="548" r="9.8"/><text x="392" y="549.2">SPAG5</text></g>
<g id="n-KIF14"><circle cx="426" cy="543" r="9.8"/><text x="426" y="544.2">KIF14</text></g>
<g id="n-GTSE1"><circle cx="433" cy="566" r="9.8"/><text x="433" y="567.2">GTSE1</text></g>
<g id="n-NEK2"><circle cx="344" cy="562" r="9.8"/><text x="344" y="563.2">NEK2</text></g>
<g id="n-TACC3"><circle cx="296" cy="573" r="9.8"/><text x="296" y="574.2">TACC3</text></g>
<g id="n-CCNF"><circle cx="287" cy="597" r="9.8"/><text x="287" y="598.2">CCNF</text></g>
<g id="n-STIL"><circle cx="318" cy="596" r="9.8"/><text x="318" y="597.2">STIL</text></g>
<g id="n-PSRC1"><circle cx="337" cy="590" r="9.8"/><text x="337" y="591.2">PSRC1</text></g>
<g id="n-AUNIP"><circle cx="362" cy="582" r="9.8"/><text x="362" y="583.2">AUNIP</text></g>
<g id="n-ZNF367"><circle cx="377" cy="596" r="9.8"/><text x="377" y="597.2">ZNF367</text></g>
<g id="n-ESCO2"><circle cx="398" cy="579" r="9.8"/><text x="398" y="580.2">ESCO2</text></g>
<g id="n-KIFC1"><circle cx="358" cy="610" r="9.8"/><text x="358" y="611.2">KIFC1</text></g>
<g id="n-SGO2"><circle cx="400" cy="613" r="9.8"/><text x="400" y="614.2">SGO2</text></g>
<g id="n-CKAP2L"><circle cx="303" cy="621" r="9.8"/><text x="303" y="622.2">CKAP2L</text></g>
<g id="n-CENPM"><circle cx="341" cy="635" r="9.8"/><text x="341" y="636.2">CENPM</text></g>
<g id="n-UBE2C"><circle cx="329" cy="675" r="9.8"/><text x="329" y="676.2">UBE2C</text></g>
</g>
<g id="legend" class="lg">
<g class="m1"><circle cx="27" cy="515" r="11"/><text x="45" y="521.5">Module1</text></g>
<g class="m2"><circle cx="27" cy="545" r="11"/><text x="45" y="551.5">Module2</text></g>
<g class="m3"><circle cx="27" cy="575" r="11"/><text x="45" y="581.5">Module3</text></g>
<g class="m4"><circle cx="27" cy="605" r="11"/><text x="45" y="611.5">Module4</text></g>
<g class="m5"><circle cx="27" cy="634" r="11"/><text x="45" y="640.5">Module5</text></g>
</g>
</svg>
